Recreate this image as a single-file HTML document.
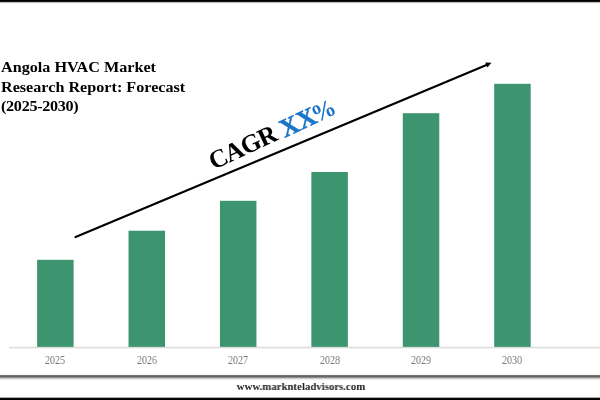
<!DOCTYPE html>
<html><head><meta charset="utf-8"><style>
html,body{margin:0;padding:0;background:#fff;}
body{width:600px;height:400px;position:relative;overflow:hidden;font-family:"Liberation Serif",serif;}
.topbar{position:absolute;left:0;top:0;width:600px;height:4px;background:linear-gradient(to bottom,#000 0 1px,#141414 1px 2px,#bcbcbc 2px 3px,#f8f8f8 3px 4px);}
.botbar{position:absolute;left:0;top:396px;width:600px;height:4px;background:linear-gradient(to bottom,#fbfbfb 0 1px,#a8a8a8 1px 2px,#080808 2px 3px,#000 3px 4px);}
.midline{position:absolute;left:0;top:374px;width:600px;height:7px;background:linear-gradient(to bottom,#f4f4f4 0 1px,#747474 1px 2px,#646464 2px 3px,#8c8c8c 3px 4px,#cccccc 4px 5px,#ededed 5px 6px,#fbfbfb 6px 7px);}
.axis{position:absolute;left:9px;top:346px;width:591px;height:3px;background:linear-gradient(to bottom,#f8f8f8 0 1px,#dcdcdc 1px 2px,#f2f2f2 2px 3px);}
.yr{position:absolute;top:353.2px;width:40px;text-align:center;font-size:12.6px;color:#787878;transform:scaleX(0.8);will-change:transform;}
.title{position:absolute;left:0.5px;top:57.8px;transform:scaleX(1.077);transform-origin:0 0;will-change:transform;font-weight:bold;font-size:15px;line-height:19.5px;color:#000;white-space:nowrap;}
.url{position:absolute;left:1.3px;width:600px;top:380.3px;will-change:transform;transform:scaleX(0.982);text-align:center;font-weight:bold;font-size:11px;color:#222;}
</style></head><body>
<div class="topbar"></div>
<div class="title">Angola HVAC Market<br>Research Report: Forecast<br><span style="letter-spacing:-0.28px">(2025-2030)</span></div>
<svg style="position:absolute;left:0;top:0;will-change:transform" width="600" height="400">
  <line x1="75.6" y1="237.1" x2="486.5" y2="64.9" stroke="#000" stroke-width="2.2" stroke-linecap="round"/>
  <polygon points="491.4,62.8 485.3,62.4 487.4,67.5" fill="#000"/>
  <text transform="translate(213.4,170.1) rotate(-25)" font-family="Liberation Serif" font-weight="bold" font-size="25.5" letter-spacing="-0.8" fill="#000">CAGR <tspan fill="#1a74c8" stroke="#1a74c8" stroke-width="0.45" font-size="26" letter-spacing="0" dx="0.5" dy="0.8">XX</tspan><tspan fill="#1a74c8" font-size="24.5" dx="-3.1" dy="0.05">%</tspan></text>
</svg>

<div class="axis"></div>
<svg style="position:absolute;left:0;top:0" width="600" height="400" fill="rgb(61,149,112)">
  <rect x="37.10" y="259.8" width="36.5" height="87.1"/>
  <rect x="128.52" y="230.7" width="36.5" height="116.2"/>
  <rect x="219.94" y="200.8" width="36.5" height="146.1"/>
  <rect x="311.36" y="172.0" width="36.5" height="174.9"/>
  <rect x="402.78" y="113.2" width="36.5" height="233.7"/>
  <rect x="494.20" y="83.8" width="36.5" height="263.1"/>
</svg>
<div class="yr" style="left:35.35px">2025</div>
<div class="yr" style="left:126.77px">2026</div>
<div class="yr" style="left:218.19px">2027</div>
<div class="yr" style="left:309.61px">2028</div>
<div class="yr" style="left:401.03px">2029</div>
<div class="yr" style="left:492.45px">2030</div>
<div class="midline"></div>
<div class="url">www.marknteladvisors.com</div>
<div class="botbar"></div>
</body></html>
